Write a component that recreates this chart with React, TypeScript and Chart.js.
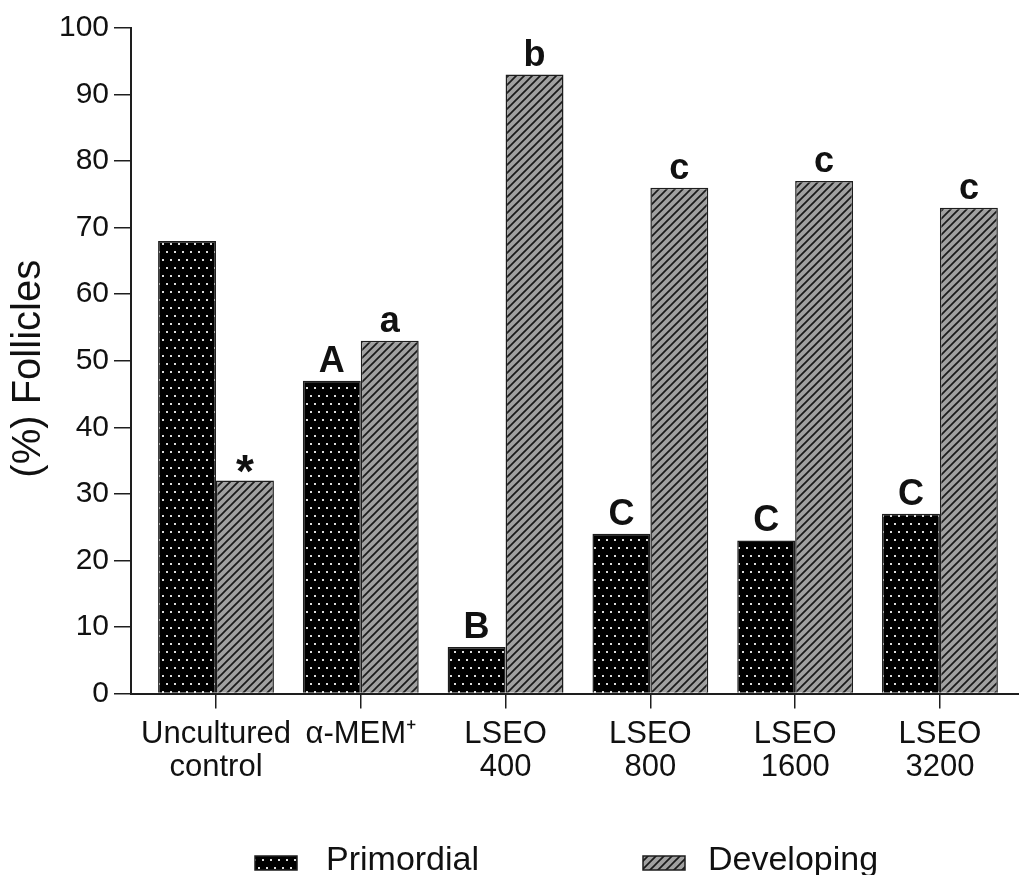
import React, { useEffect, useRef } from "react";
import { Chart, registerables } from "chart.js";

Chart.register(...registerables);

// Treatment groups (multi-line tick labels)
const categories: string[][] = [
  ["Uncultured", "control"],
  ["α-MEM⁺"],
  ["LSEO", "400"],
  ["LSEO", "800"],
  ["LSEO", "1600"],
  ["LSEO", "3200"],
];

// Percentage of follicles per stage
const primordial: number[] = [68, 47, 7, 24, 23, 27];
const developing: number[] = [32, 53, 93, 76, 77, 73];

// Significance letters above each bar
const primordialMarks: string[] = ["", "A", "B", "C", "C", "C"];
const developingMarks: string[] = ["*", "a", "b", "c", "c", "c"];

const seriesNames: string[] = ["Primordial", "Developing"];
const yTitle = "(%) Follicles";

const Y_MIN = 0;
const Y_MAX = 100;
const Y_STEP = 10;

const FONT = '"Liberation Sans", Arial, sans-serif';
const INK = "#111111";
const AXIS = "#1e1e1e";

function makeDotPattern(): CanvasPattern {
  const c = document.createElement("canvas");
  c.width = 8;
  c.height = 16;
  const g = c.getContext("2d")!;
  g.fillStyle = "#000000";
  g.fillRect(0, 0, 8, 16);
  g.fillStyle = "#dcdcdc";
  g.fillRect(2, 3, 2, 2);
  g.fillRect(6, 11, 2, 2);
  return g.createPattern(c, "repeat")!;
}

function makeHatchPattern(): CanvasPattern {
  const s = 8;
  const c = document.createElement("canvas");
  c.width = s;
  c.height = s;
  const g = c.getContext("2d")!;
  g.fillStyle = "#a0a0a0";
  g.fillRect(0, 0, s, s);
  g.strokeStyle = "#1a1a1a";
  g.lineWidth = 1.7;
  g.beginPath();
  g.moveTo(-1, 1);
  g.lineTo(1, -1);
  g.moveTo(0, s);
  g.lineTo(s, 0);
  g.moveTo(s - 1, s + 1);
  g.lineTo(s + 1, s - 1);
  g.stroke();
  return g.createPattern(c, "repeat")!;
}

export default function App() {
  const canvasRef = useRef<HTMLCanvasElement | null>(null);

  useEffect(() => {
    const canvas = canvasRef.current;
    if (!canvas) return;

    const dots = makeDotPattern();
    const hatch = makeHatchPattern();
    const fills = [dots, hatch];

    // Letters drawn above the bars they belong to
    const marksPlugin = {
      id: "marks",
      afterDatasetsDraw(chart: any) {
        const ctx = chart.ctx as CanvasRenderingContext2D;
        ctx.save();
        ctx.fillStyle = INK;
        ctx.textAlign = "center";
        ctx.textBaseline = "alphabetic";
        [primordialMarks, developingMarks].forEach((marks, di) => {
          const meta = chart.getDatasetMeta(di);
          meta.data.forEach((bar: any, i: number) => {
            const m = marks[i];
            if (!m) return;
            const star = m === "*";
            ctx.font = `bold ${star ? 46 : 36}px ${FONT}`;
            const lift = star ? -6 : 9;
            ctx.fillText(m, bar.x, bar.y - lift);
          });
        });
        ctx.restore();
      },
    };

    // Rotated y-axis title centred beside the plot
    const yTitlePlugin = {
      id: "yTitle",
      afterDraw(chart: any) {
        const ctx = chart.ctx as CanvasRenderingContext2D;
        const area = chart.chartArea;
        ctx.save();
        ctx.translate(29, (area.top + area.bottom) / 2 + 8);
        ctx.rotate(-Math.PI / 2);
        ctx.font = `40px ${FONT}`;
        ctx.fillStyle = INK;
        ctx.textAlign = "center";
        ctx.textBaseline = "middle";
        ctx.fillText(yTitle, 0, 0);
        ctx.restore();
      },
    };

    // Legend row under the axis labels
    const legendPlugin = {
      id: "bottomLegend",
      afterDraw(chart: any) {
        const ctx = chart.ctx as CanvasRenderingContext2D;
        const baseY = chart.height - 5;
        const boxW = 42;
        const boxH = 14;
        const items = [
          { boxX: 255, textX: 326 },
          { boxX: 643, textX: 708 },
        ];
        ctx.save();
        ctx.font = `34px ${FONT}`;
        ctx.textBaseline = "alphabetic";
        ctx.textAlign = "left";
        items.forEach((it, i) => {
          ctx.fillStyle = fills[i];
          ctx.fillRect(it.boxX, baseY - boxH, boxW, boxH);
          ctx.strokeStyle = AXIS;
          ctx.lineWidth = 1.5;
          ctx.strokeRect(it.boxX, baseY - boxH, boxW, boxH);
          ctx.fillStyle = INK;
          ctx.fillText(seriesNames[i], it.textX, baseY);
        });
        ctx.restore();
      },
    };

    const chart = new Chart(canvas, {
      type: "bar",
      data: {
        datasets: [
          {
            label: seriesNames[0],
            data: primordial.map((v, i) => ({ x: i, y: v })),
            backgroundColor: dots,
            borderColor: AXIS,
            borderWidth: 1.5,
          },
          {
            label: seriesNames[1],
            data: developing.map((v, i) => ({ x: i, y: v })),
            backgroundColor: hatch,
            borderColor: AXIS,
            borderWidth: 1.5,
          },
        ],
      },
      options: {
        animation: false,
        responsive: false,
        devicePixelRatio: 1,
        categoryPercentage: 0.8,
        barPercentage: 1.0,
        layout: { padding: { top: 28, left: 0, right: 0, bottom: 0 } },
        plugins: {
          legend: { display: false },
          tooltip: { enabled: false },
        },
        scales: {
          x: {
            type: "linear",
            min: -0.587,
            max: 5.546,
            offset: false,
            grid: {
              offset: false,
              drawOnChartArea: false,
              drawTicks: true,
              tickLength: 15,
              color: AXIS,
              lineWidth: 1.5,
            },
            border: { display: true, color: AXIS, width: 2 },
            afterBuildTicks: (scale: any) => {
              scale.ticks = categories.map((_, i) => ({ value: i }));
            },
            afterFit: (scale: any) => {
              scale.height = 181.5;
            },
            ticks: {
              autoSkip: false,
              maxRotation: 0,
              minRotation: 0,
              padding: 9,
              color: INK,
              font: { family: FONT, size: 31, lineHeight: 1.08 },
              callback: (value: any) => categories[Math.round(Number(value))] ?? "",
            },
          },
          y: {
            type: "linear",
            min: Y_MIN,
            max: Y_MAX,
            grid: {
              drawOnChartArea: false,
              drawTicks: true,
              tickLength: 17,
              color: AXIS,
              lineWidth: 1.5,
            },
            border: { display: true, color: AXIS, width: 2 },
            afterFit: (scale: any) => {
              scale.width = 131;
            },
            ticks: {
              stepSize: Y_STEP,
              padding: 5,
              color: INK,
              font: { family: FONT, size: 30 },
            },
          },
        },
      },
      plugins: [marksPlugin, yTitlePlugin, legendPlugin],
    } as any);

    return () => chart.destroy();
  }, []);

  return (
    <div style={{ position: "absolute", left: 0, top: 0, width: 1019, height: 875, background: "#ffffff" }}>
      <canvas ref={canvasRef} width={1019} height={875} />
    </div>
  );
}
